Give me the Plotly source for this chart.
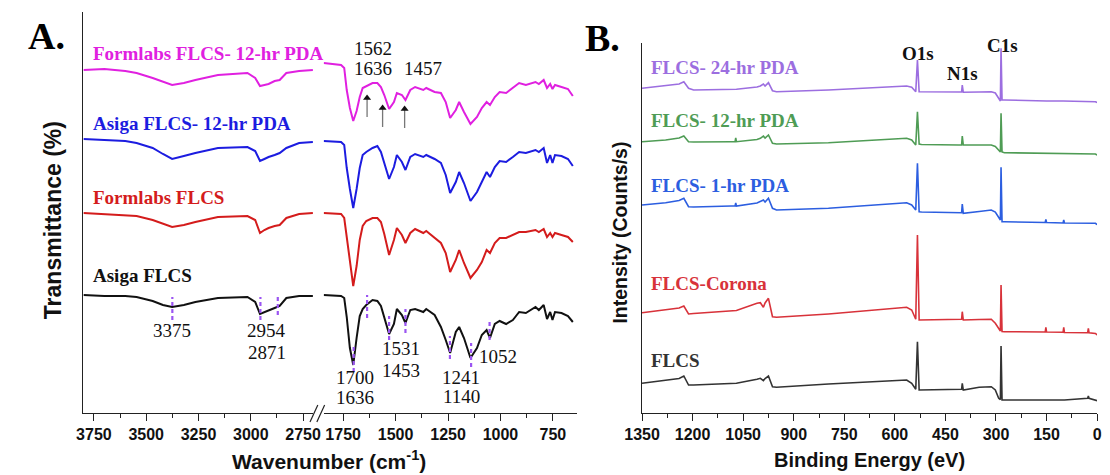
import plotly.graph_objects as go

W, H = 1110, 475

# ---------------- Panel A : FTIR (broken wavenumber axis) ----------------
WN_L = [3800, 3700, 3600, 3546, 3469, 3420, 3376, 3320, 3265, 3157, 3016, 2979,
        2956, 2935, 2915, 2886, 2862, 2830, 2769, 2703]
WN_R = [1843, 1760, 1745, 1733, 1718, 1702, 1686, 1671, 1657, 1640, 1610, 1587,
        1570, 1554, 1531, 1508, 1494, 1470, 1453, 1430, 1407, 1368, 1354, 1314,
        1284, 1261, 1240, 1213, 1197, 1174, 1143, 1112, 1089, 1066, 1050, 1027,
        1004, 973, 941, 911, 879, 833, 817, 794, 778, 763, 752, 740, 709, 678, 655]

formlabs_pda_L = [336, 337, 335, 333, 328, 324, 321, 323, 326, 331, 333, 328,
                  320, 321, 322, 325, 326, 333, 335, 336]
formlabs_pda_R = [343, 341, 338, 316, 298, 285, 295, 309, 318, 320, 323, 323,
                  319, 311, 297, 304, 313, 311, 306, 316, 319, 316, 318, 314,
                  313, 304, 288, 296, 304, 294, 282, 289, 298, 304, 301, 309,
                  314, 313, 318, 323, 321, 324, 322, 326, 318, 322, 317, 321, 319, 317, 310]

asiga_pda_L = [267, 266, 265, 263, 258, 252, 247, 250, 253, 258, 259, 255,
               245, 247, 249, 251, 253, 258, 263, 264]
asiga_pda_R = [265, 264, 261, 238, 217, 198, 217, 238, 251, 254, 258, 260,
               254, 243, 227, 239, 251, 244, 236, 249, 252, 249, 251, 247,
               243, 231, 213, 224, 234, 223, 205, 214, 224, 234, 229, 239,
               245, 244, 249, 254, 253, 256, 254, 258, 243, 251, 243, 251, 250, 247, 240]

formlabs_L = [193, 192, 191, 190, 186, 182, 179, 181, 184, 189, 190, 186,
              173, 176, 178, 180, 181, 188, 192, 193]
formlabs_R = [193, 192, 188, 170, 145, 120, 140, 166, 180, 185, 188, 188,
              184, 172, 151, 166, 178, 171, 163, 173, 177, 173, 175, 168,
              163, 153, 134, 146, 156, 143, 128, 136, 144, 156, 153, 163,
              168, 168, 171, 174, 174, 176, 174, 177, 169, 173, 169, 173, 171, 169, 164]

asiga_L = [111, 110, 110, 109, 105, 101, 99, 101, 104, 108, 109, 104,
           92, 94, 96, 98, 100, 108, 110, 110]
asiga_R = [111, 110, 108, 89, 58, 41, 68, 90, 97, 101, 106, 105,
           100, 89, 72, 82, 97, 91, 83, 96, 97, 94, 97, 91,
           79, 66, 53, 74, 79, 68, 48, 58, 71, 76, 68, 82,
           85, 82, 86, 94, 93, 99, 96, 101, 87, 94, 86, 94, 93, 90, 84]

A_names = ["Formlabs FLCS- 12-hr PDA", "Asiga FLCS- 12-hr PDA", "Formlabs FLCS", "Asiga FLCS"]
A_colors = ["#e020e0", "#1c1ce0", "#d41c1c", "#111111"]
A_label_h = [353, 283, 209, 131]
A_left = [formlabs_pda_L, asiga_pda_L, formlabs_L, asiga_L]
A_right = [formlabs_pda_R, asiga_pda_R, formlabs_R, asiga_R]

# purple dashed peak markers on the Asiga FLCS trace: (wavenumber, low, high)
mark_wn = [3375, 2954, 2871, 1700, 1636, 1531, 1453, 1241, 1140, 1052]
mark_lo = [86, 86, 91, 34, 88, 66, 73, 47, 39, 66]
mark_hi = [109, 109, 109, 59, 111, 90, 97, 70, 63, 84]

# peak number labels (text, wavenumber position, height)
peak_txt = ["3375", "2954", "2871", "1700", "1636", "1531", "1453", "1241", "1140", "1052",
            "1562", "1636", "1457"]
peak_x = [3375, 2923, 2923, 1694, 1694, 1472, 1472, 1187, 1187, 1011, 1609, 1609, 1368]
peak_y = [76, 76, 54, 29, 9, 58, 36, 29, 10, 50, 358, 338, 338]

# upward arrows on the Formlabs 12-hr PDA trace: position, tail height, head height
arrow_wn = [1636, 1562, 1457]
arrow_tail = [289, 279, 278]
arrow_head = [311, 301, 300]

# ---------------- Panel B : XPS survey ----------------
E_B = [1350, 1280, 1240, 1226, 1212, 1197, 1086, 1074, 1072, 1070, 1009, 999, 990, 985,
       975, 963, 951, 797, 565, 550, 538, 533, 528, 521, 410, 402, 400, 397, 350, 314,
       302, 292, 287, 285, 282, 275, 217, 154, 152, 150, 101, 99, 97, 28, 26, 24, 5, 0]

pda24 = [324.7, 327, 329, 331.3, 324.7, 323, 323.7, 323.7, 324, 323.7, 326, 327, 329, 327,
         330.3, 322.3, 321.3, 323, 327, 325.7, 321.3, 353, 321.3, 321.3, 320.7, 321, 328, 320.7, 321, 321.3,
         320, 315, 312, 364.7, 313, 313, 312.3, 312, 312, 312, 312, 312, 312, 311.5, 311.5, 311.5, 311.3, 310.5]
pda12 = [271.3, 273, 275, 277, 271.3, 271, 271.3, 271.3, 275, 271.3, 273.5, 274.7, 277, 275,
         278, 269.7, 269, 270.3, 274.7, 273, 268, 301.3, 269, 268.5, 268, 268, 277, 268, 268, 268,
         266.5, 263, 261, 299.7, 261, 260.3, 260, 259.5, 259.5, 259.5, 259.3, 259.3, 259.3, 259, 259, 259, 259, 258]
pda1 = [208, 210.3, 212.5, 214.7, 206.3, 206, 207, 207, 210, 207, 210, 211.3, 213, 211,
        214.7, 204.7, 203, 204.7, 210.3, 208, 203, 249.7, 201.3, 201, 200.3, 200.3, 209, 199.7, 201.5, 203,
        201, 196, 193, 245.7, 191.3, 191.3, 191, 190.5, 193.5, 190.5, 190, 193, 190, 189.8, 189.8, 189.8, 189.7, 188.5]
corona = [100.3, 103, 105, 107, 99, 99.5, 102.3, 102.5, 102.5, 102.5, 109.7, 110.3, 105.7, 110,
          114.7, 96.3, 95.7, 99, 105.7, 103, 93.7, 178, 93, 93, 93.7, 93.7, 101.3, 93, 93.5, 93.7,
          89.7, 83.7, 82, 128, 81.5, 81.3, 81.2, 81, 85.7, 81, 80.7, 85.7, 80.5, 80.3, 84.7, 80.3, 79.5, 78]
flcs = [29.7, 32.3, 34.5, 37, 28, 28, 29.7, 29.7, 29.7, 29.7, 33.7, 34.7, 32.3, 34.5,
        37, 26.3, 25.7, 29, 33, 29.7, 23.7, 71.3, 23, 23, 23.7, 23.7, 29.7, 23, 25.7, 26.3,
        23, 14.7, 13.5, 67, 13, 13, 13, 13, 13, 13, 13, 13, 13, 14.7, 17, 14.7, 13.3, 12.3]

B_names = ["FLCS- 24-hr PDA", "FLCS- 12-hr PDA", "FLCS- 1-hr PDA", "FLCS-Corona", "FLCS"]
B_colors = ["#9c6ee0", "#4f9c55", "#2c5ee0", "#d8323a", "#333333"]
B_label_h = [346, 293, 228, 130, 53]
B_series = [pda24, pda12, pda1, corona, flcs]

elem_txt = ["O1s", "N1s", "C1s"]
elem_E = [532, 400, 282]
elem_h = [360, 340, 368]

# ---------------- figure ----------------
fig = go.Figure()

for name, col, yl, yr in zip(A_names, A_colors, A_left, A_right):
    fig.add_trace(go.Scatter(x=WN_L, y=yl, mode="lines", line=dict(color=col, width=2),
                             xaxis="x", yaxis="y", name=name, showlegend=False))
    fig.add_trace(go.Scatter(x=WN_R, y=yr, mode="lines", line=dict(color=col, width=2),
                             xaxis="x2", yaxis="y", name=name, showlegend=False))

# arrows (shaft + head)
for wn, t, h in zip(arrow_wn, arrow_tail, arrow_head):
    fig.add_trace(go.Scatter(x=[wn, wn], y=[t, h - 3], mode="lines",
                             line=dict(color="#777", width=1.3), xaxis="x2", yaxis="y",
                             showlegend=False, hoverinfo="skip"))
fig.add_trace(go.Scatter(x=arrow_wn, y=[h - 3 for h in arrow_head], mode="markers",
                         marker=dict(symbol="triangle-up", size=7, color="#111"),
                         xaxis="x2", yaxis="y", showlegend=False, hoverinfo="skip"))

for name, col, ys in zip(B_names, B_colors, B_series):
    fig.add_trace(go.Scatter(x=E_B, y=ys, mode="lines", line=dict(color=col, width=1.6),
                             xaxis="x3", yaxis="y3", name=name, showlegend=False))


def px(xp):
    return xp / W


def py(yp):
    return 1 - yp / H


tickfont = dict(family="Liberation Sans, Arial", size=16, color="#111", weight="bold")
axcommon = dict(showline=True, linecolor="#222", linewidth=1.3, ticks="outside", ticklen=7,
                tickwidth=1.3, tickcolor="#222", showgrid=False, zeroline=False,
                tickfont=tickfont, dtick=250,
                minor=dict(ticks="outside", ticklen=4, tickwidth=1.2, tickcolor="#222", dtick=125))

fig.update_layout(
    width=W, height=H, margin=dict(l=0, r=0, t=0, b=0),
    paper_bgcolor="white", plot_bgcolor="white", showlegend=False,
    xaxis=dict(domain=[px(67), px(302)], range=[3800, 2703], anchor="y", **axcommon),
    xaxis2=dict(domain=[px(313), px(572)], range=[1843, 637], anchor="y", **axcommon),
    yaxis=dict(domain=[py(413), py(12)], range=[-7, 394], anchor="x", showline=True,
               linecolor="#222", linewidth=1.3, showticklabels=False, ticks="",
               showgrid=False, zeroline=False),
    xaxis3=dict(domain=[px(639), px(1105)], range=[1350, 0], anchor="y3",
                **{**axcommon, "dtick": 150, "minor": dict(ticks="outside", ticklen=4, tickwidth=1.2,
                                                           tickcolor="#222", dtick=75)}),
    yaxis3=dict(domain=[py(413), py(43)], range=[0, 370], anchor="x3", showline=True,
                linecolor="#222", linewidth=1.3, showticklabels=False, ticks="",
                showgrid=False, zeroline=False),
)

shapes = []
for wn, lo, hi in zip(mark_wn, mark_lo, mark_hi):
    xr = "x" if wn > 2000 else "x2"
    shapes.append(dict(type="line", xref=xr, yref="y", x0=wn, x1=wn, y0=lo, y1=hi,
                       line=dict(color="#9b55f2", width=2.2, dash="4px,3px")))
# axis break marks
for off in (0, 7):
    shapes.append(dict(type="line", xref="paper", yref="paper",
                       x0=px(299 + off), x1=px(307 + off), y0=py(422), y1=py(405),
                       line=dict(color="#222", width=1.2)))
fig.update_layout(shapes=shapes)

ann = []
serif = "Liberation Serif, Times New Roman"
sans = "Liberation Sans, Arial"
for t, x, y in zip(peak_txt, peak_x, peak_y):
    xr = "x" if x > 2000 else "x2"
    ann.append(dict(text=t, x=x, y=y, xref=xr, yref="y", showarrow=False,
                    xanchor="center", yanchor="middle",
                    font=dict(family=serif, size=19, color="#111")))
for name, col, h in zip(A_names, A_colors, A_label_h):
    ann.append(dict(text="<b>" + name + "</b>", x=3764, y=h, xref="x", yref="y",
                    showarrow=False, xanchor="left", yanchor="middle",
                    font=dict(family=serif, size=19, color=col)))
for name, col, h in zip(B_names, B_colors, B_label_h):
    ann.append(dict(text="<b>" + name + "</b>", x=1330, y=h, xref="x3", yref="y3",
                    showarrow=False, xanchor="left", yanchor="middle",
                    font=dict(family=serif, size=19, color=col)))
for t, e, h in zip(elem_txt, elem_E, elem_h):
    ann.append(dict(text="<b>" + t + "</b>", x=e, y=h, xref="x3", yref="y3",
                    showarrow=False, xanchor="center", yanchor="middle",
                    font=dict(family=serif, size=19, color="#111")))

ann += [
    dict(text="<b>A.</b>", x=px(29), y=py(36), xref="paper", yref="paper", showarrow=False,
         xanchor="center", yanchor="middle", font=dict(family=serif, size=38, color="#000")),
    dict(text="<b>B.</b>", x=px(599), y=py(38), xref="paper", yref="paper", showarrow=False,
         xanchor="center", yanchor="middle", font=dict(family=serif, size=38, color="#000")),
    dict(text="<b>Transmittance (%)</b>", x=px(36), y=py(220), xref="paper", yref="paper",
         showarrow=False, textangle=-90, xanchor="center", yanchor="middle",
         font=dict(family=sans, size=23, color="#111")),
    dict(text="<b>Intensity (Counts/s)</b>", x=px(616), y=py(233), xref="paper", yref="paper",
         showarrow=False, textangle=-90, xanchor="center", yanchor="middle",
         font=dict(family=sans, size=19.5, color="#111")),
    dict(text="<b>Wavenumber (cm<sup>-1</sup>)</b>", x=px(318), y=py(460), xref="paper",
         yref="paper", showarrow=False, xanchor="center", yanchor="middle",
         font=dict(family=sans, size=21, color="#111")),
    dict(text="<b>Binding Energy (eV)</b>", x=px(872), y=py(460), xref="paper",
         yref="paper", showarrow=False, xanchor="center", yanchor="middle",
         font=dict(family=sans, size=20, color="#111")),
]
fig.update_layout(annotations=ann)

fig.write_html("out.html", config={"displayModeBar": False},
               post_script="document.body.style.margin='0px';")
